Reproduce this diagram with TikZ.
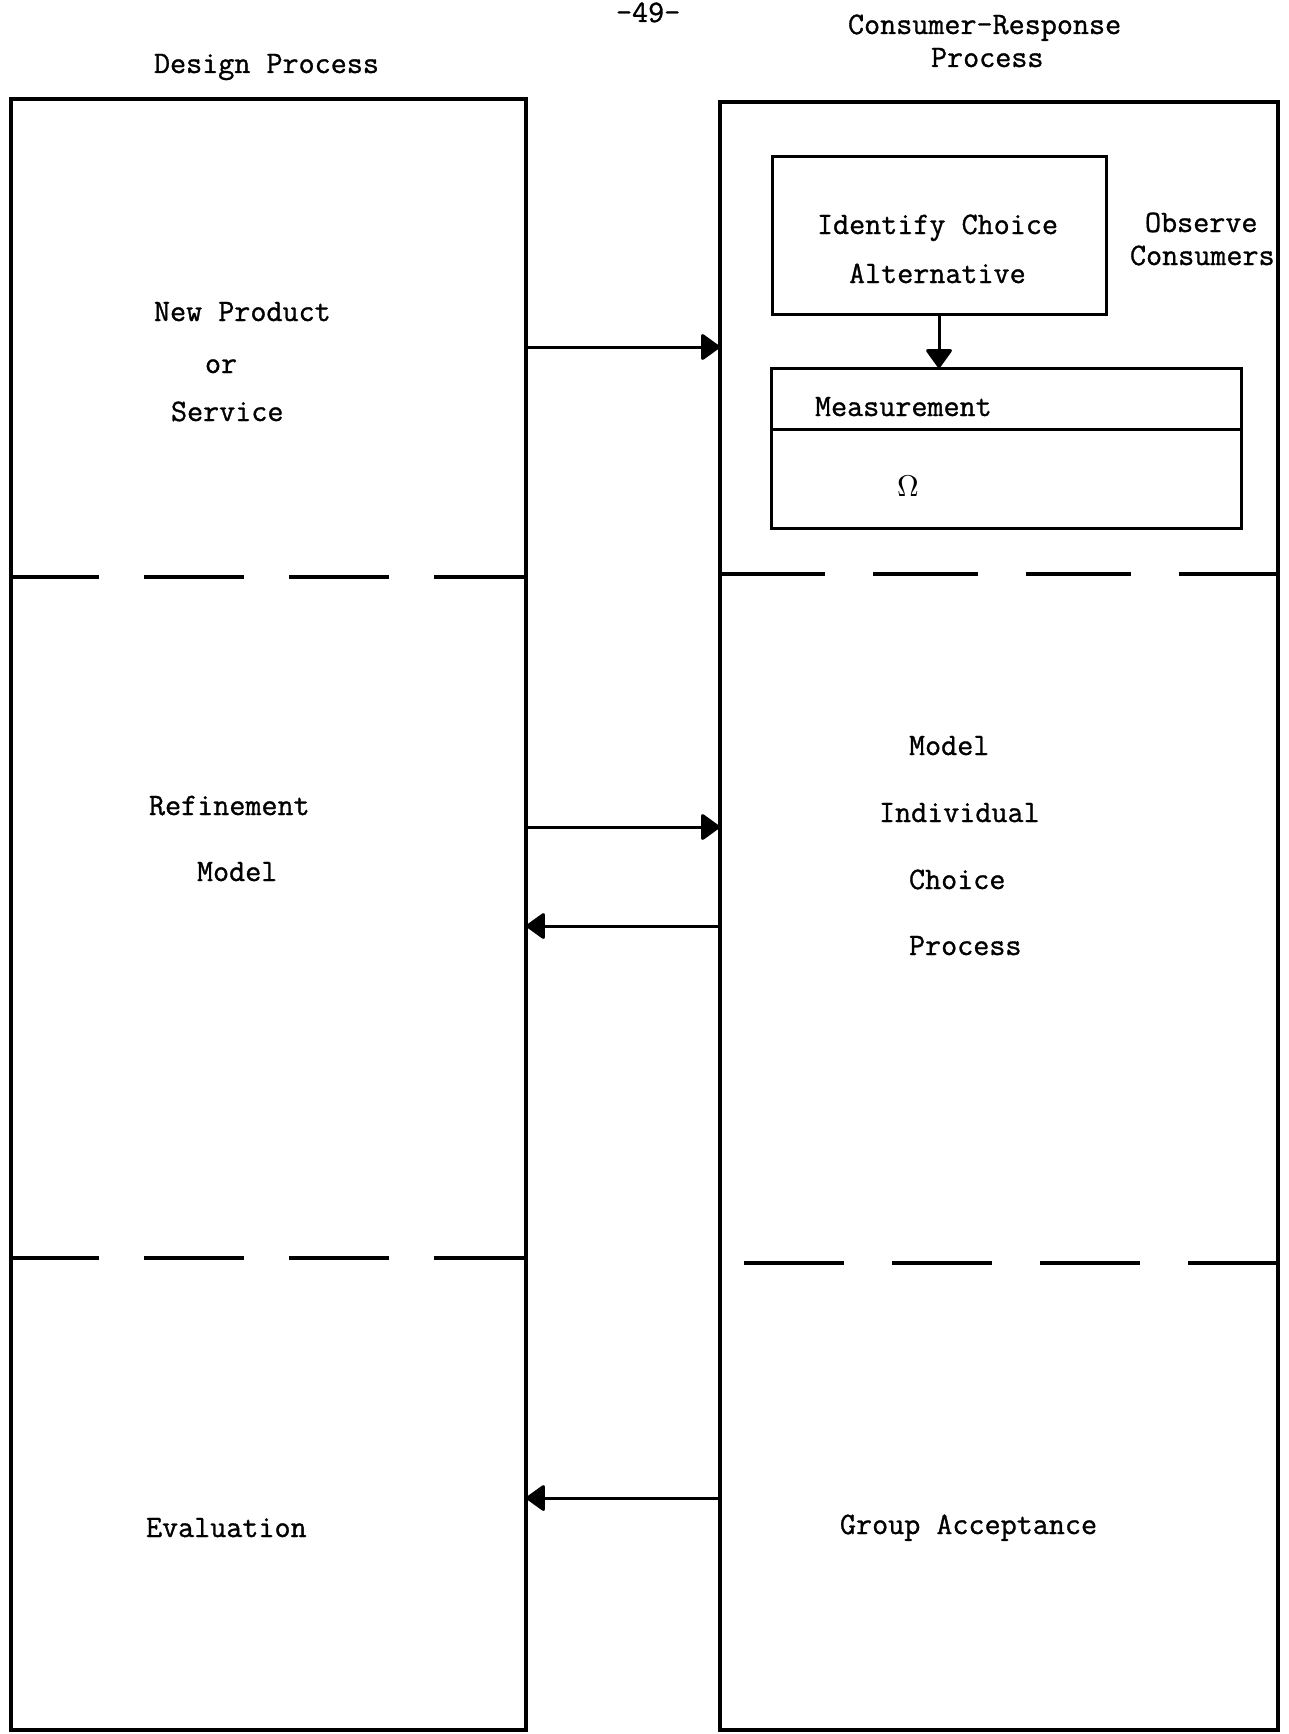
\documentclass[tikz,border=0pt]{standalone}
\usepackage[no-math]{fontspec}
\usetikzlibrary{arrows.meta}
\newfontfamily\typefont[FakeBold=1]{Latin Modern Mono}

\begin{document}
\begin{tikzpicture}[x=1pt,y=-1pt,
  every node/.style={inner sep=0pt,outer sep=0pt},
  txt/.style={anchor=base west,font=\typefont\fontsize{31.2}{36}\selectfont},
  column/.style={draw,line width=4pt,minimum width=#1},
  inner/.style={draw,line width=3pt},
  sep/.style={line width=4.5pt,dash pattern=on 100pt off 45pt},
  arr/.style={line width=3pt,-{Triangle[round,length=20pt,width=28pt]}}]

\useasboundingbox (0,0) rectangle (1289,1734);

% page number and column headings
\node[txt] (page) at (616,22) {-49-};
\node[txt] (hdL) at (154,73) {Design Process};
\node[txt] (hdR1) at (848,34) {Consumer-Response};
\node[txt] (hdR2) at (931,67) {Process};

% the two process columns
\node[column=515pt,minimum height=1631pt] (L) at (268.5,914.5) {};
\node[column=558pt,minimum height=1628pt] (R) at (999,916) {};

% stage separators
\draw[sep,dash phase=12pt] (L.west |- 0,577) -- (L.east |- 0,577);
\draw[sep,dash phase=12pt] (L.west |- 0,1258) -- (L.east |- 0,1258);
\draw[sep,dash pattern=on 105pt off 48pt] (R.west |- 0,574) -- (R.east |- 0,574);
\draw[sep,dash pattern=on 100pt off 48pt,dash phase=124pt] (R.west |- 0,1263) -- (R.east |- 0,1263);

% observation boxes
\node[inner,minimum width=334pt,minimum height=158pt] (I) at (939,235) {};
\node[inner,minimum width=470pt,minimum height=160pt] (M) at (1006,448) {};
\draw[line width=3pt] (M.west |- 0,429) -- (M.east |- 0,429);
\draw[arr] (I.south) -- (I.south |- M.north);

\node[txt] (id1) at (817,234) {Identify Choice};
\node[txt] (id2) at (849,283) {Alternative};
\node[txt] (obs1) at (1145,232) {Observe};
\node[txt] (obs2) at (1130,265) {Consumers};
\node[txt] (meas) at (815,416) {Measurement};
\node[anchor=base,scale=3] (om) at (908,496) {$\Omega$};

% design stages
\node[txt] (np1) at (154,321) {New Product};
\node[txt] (np2) at (205,373) {or};
\node[txt] (np3) at (171,421) {Service};
\node[txt] (rf1) at (149,815) {Refinement};
\node[txt] (rf2) at (197,881) {Model};
\node[txt] (ev) at (146,1537) {Evaluation};

% consumer-response stages
\node[txt] (ch1) at (909,755) {Model};
\node[txt] (ch2) at (879,822) {Individual};
\node[txt] (ch3) at (909,889) {Choice};
\node[txt] (ch4) at (909,955) {Process};
\node[txt] (ga) at (840,1534) {Group Acceptance};

% flows between the processes
\draw[arr] (L.east |- 0,347) -- (R.west |- 0,347);
\draw[arr] (L.east |- 0,827) -- (R.west |- 0,827);
\draw[arr] (R.west |- 0,926) -- (L.east |- 0,926);
\draw[arr] (R.west |- 0,1498) -- (L.east |- 0,1498);

\end{tikzpicture}
\end{document}
